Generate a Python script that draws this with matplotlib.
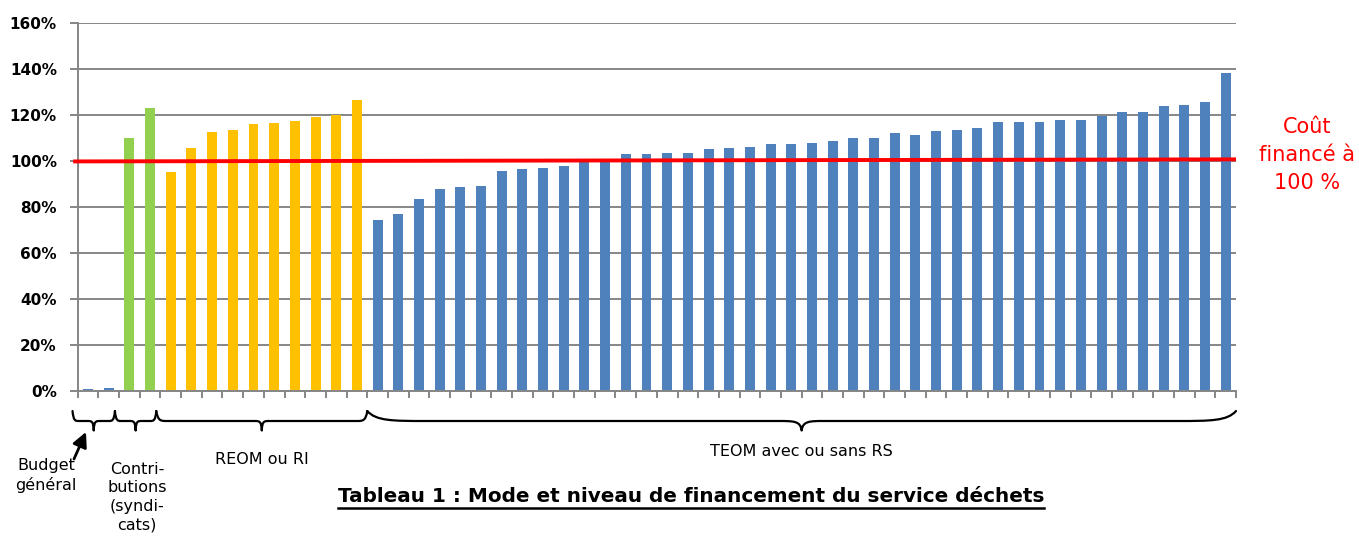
import matplotlib
matplotlib.use("Agg")
import matplotlib.pyplot as plt
import matplotlib.transforms as mtransforms
from matplotlib.path import Path
from matplotlib.patches import PathPatch
from matplotlib.lines import Line2D

# ---------------- data ----------------
budget_vals = [0.8, 1.3]
contrib_vals = [110.0, 123.1]
reom_vals = [95.1, 105.6, 112.7, 113.4, 116.1, 116.6, 117.5, 119.1, 120.0, 126.6]
teom_vals = [74.6, 77.2, 83.4, 87.8, 88.6, 89.1, 95.6, 96.5, 97.0, 97.8,
             99.9, 100.3, 103.1, 103.1, 103.5, 103.5, 105.3, 105.7, 106.2, 107.5,
             107.6, 107.7, 109.0, 109.9, 110.3, 112.1, 111.6, 113.0, 113.4, 114.3,
             116.9, 116.9, 116.9, 117.8, 117.8, 119.8, 121.2, 121.2, 123.9, 124.3,
             125.6, 138.2]
group_labels = ["Budget\ngénéral", "Contri-\nbutions\n(syndi-\ncats)", "REOM ou RI", "TEOM avec ou sans RS"]
group_colors = ["#4F81BD", "#92D050", "#FFC000", "#4F81BD"]
y_ticks = [0, 20, 40, 60, 80, 100, 120, 140, 160]
y_ticklabels = ["0%", "20%", "40%", "60%", "80%", "100%", "120%", "140%", "160%"]
ref_line_start, ref_line_end = 99.9, 100.8
ref_label = "Coût\nfinancé à\n100 %"
title = "Tableau 1 : Mode et niveau de financement du service déchets"

W, H = 1359, 537
fig = plt.figure(figsize=(W / 100, H / 100), dpi=100)
ax = fig.add_axes([77.7 / W, (H - 391) / H, (1236 - 77.7) / W, (391 - 23.3) / H])

groups = [budget_vals, contrib_vals, reom_vals, teom_vals]
start = 0
bounds = []
for vals, col in zip(groups, group_colors):
    xs = list(range(start, start + len(vals)))
    ax.bar(xs, vals, width=0.48, color=col, zorder=3)
    bounds.append((start - 0.5, start + len(vals) - 0.5))
    start += len(vals)
n = start

ax.set_xlim(-0.5, n - 0.5)
ax.set_ylim(0, 160)
ax.set_xticks([i - 0.5 for i in range(n + 1)])
ax.set_xticklabels([])
ax.set_yticks(y_ticks)
ax.set_yticklabels(y_ticklabels, fontsize=11, fontweight="bold", family="DejaVu Sans")
ax.tick_params(axis="y", length=6, width=1.4, color="#868686", pad=9)
ax.tick_params(axis="x", length=5, width=1.4, color="#868686", direction="out")
ax.grid(axis="y", color="#868686", lw=1.4, zorder=1)
ax.set_axisbelow(True)
for s in ["top", "right"]:
    ax.spines[s].set_visible(False)
for s in ["left", "bottom"]:
    ax.spines[s].set_color("#868686")
    ax.spines[s].set_linewidth(1.4)
ax.spines["bottom"].set_zorder(4)

# reference line
ax.plot([-0.72, n - 0.5], [ref_line_start, ref_line_end], color="#FF0000", lw=2.8,
        solid_capstyle="butt", zorder=5, clip_on=False)
fig.text(1307 / W, 1 - 155 / H, ref_label, color="#FF0000", fontsize=15,
         ha="center", va="center", linespacing=1.5)

# braces
trans = mtransforms.blended_transform_factory(ax.transData, ax.transAxes)
def yf(py):
    return (391 - py) / (391 - 23.3)

y_top, y_line, y_tip = yf(411), yf(421), yf(430.5)

def brace(x0, x1, hook, tip):
    xm = (x0 + x1) / 2
    verts = [
        (x0, y_top),
        (x0 + 0.15 * hook, y_line), (x0 + 0.45 * hook, y_line), (x0 + hook, y_line),
        (xm - tip, y_line),
        (xm - 0.35 * tip, y_line), (xm - 0.05 * tip, y_line), (xm, y_tip),
        (xm + 0.05 * tip, y_line), (xm + 0.35 * tip, y_line), (xm + tip, y_line),
        (x1 - hook, y_line),
        (x1 - 0.45 * hook, y_line), (x1 - 0.15 * hook, y_line), (x1, y_top),
    ]
    codes = [Path.MOVETO, Path.CURVE4, Path.CURVE4, Path.CURVE4, Path.LINETO,
             Path.CURVE4, Path.CURVE4, Path.CURVE4, Path.CURVE4, Path.CURVE4, Path.CURVE4,
             Path.LINETO, Path.CURVE4, Path.CURVE4, Path.CURVE4]
    p = PathPatch(Path(verts, codes), transform=trans, fill=False, lw=1.6,
                  edgecolor="black", clip_on=False, capstyle="round", joinstyle="round")
    ax.add_patch(p)

shift = -0.2
brace(bounds[0][0] - 0.25, bounds[0][1] + shift, 0.3, 0.3)
brace(bounds[1][0] + shift, bounds[1][1] + shift, 0.3, 0.3)
brace(bounds[2][0] + shift, bounds[2][1], 0.5, 0.35)
brace(bounds[3][0], bounds[3][1], 2.8, 1.1)

# group labels
txt_kw = dict(fontsize=11.5, ha="center", va="center", family="DejaVu Sans")
fig.text(46 / W, 1 - 475.5 / H, group_labels[0], linespacing=1.3, **txt_kw)
fig.text(137 / W, 1 - 497 / H, group_labels[1], linespacing=1.3, **txt_kw)
fig.text(262 / W, 1 - 460 / H, group_labels[2], **txt_kw)
fig.text(801 / W, 1 - 452 / H, group_labels[3], **txt_kw)

# arrow
ax.annotate("", xy=(86 / W, 1 - 432 / H), xytext=(74 / W, 1 - 459 / H),
            xycoords="figure fraction", textcoords="figure fraction",
            arrowprops=dict(arrowstyle="-|>", lw=2, color="black", mutation_scale=22,
                            shrinkA=0, shrinkB=0))

# title with underline
t = fig.text(691 / W, 1 - 496 / H, title, fontsize=14.4, fontweight="bold",
             ha="center", va="center", family="DejaVu Sans")
fig.canvas.draw()
bb = t.get_window_extent()
uy = (H - 507.5) / H
fig.add_artist(Line2D([bb.x0 / W, bb.x1 / W], [uy, uy], color="black", lw=1.8,
                      transform=fig.transFigure))

fig.savefig("out.png", dpi=100)
